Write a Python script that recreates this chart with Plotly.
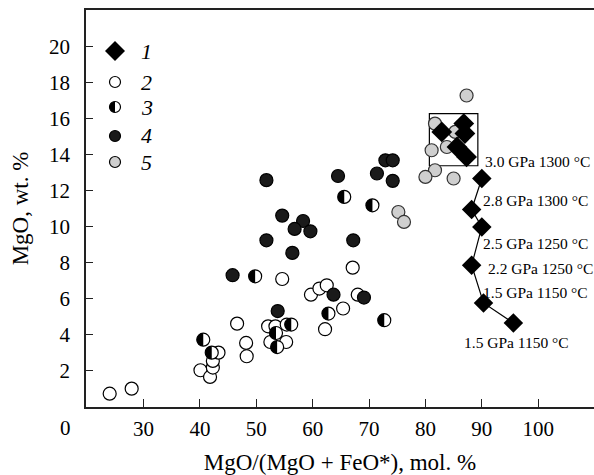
import math
import plotly.graph_objects as go

# ---- data ----
# 1: experimental melts, diamonds inside the box
s1_box_x = [82.9, 86.8, 87.0, 85.6, 87.3]
s1_box_y = [15.28, 15.74, 15.19, 14.44, 13.89]
# 1: experimental melts joined by a line
s1_path_x = [90.0, 88.2, 90.0, 88.2, 90.3, 95.6]
s1_path_y = [12.69, 10.97, 10.0, 7.87, 5.78, 4.67]
s1_labels = ["3.0 GPa 1300 °C", "2.8 GPa 1300 °C", "2.5 GPa 1250 °C",
             "2.2 GPa 1250 °C", "1.5 GPa 1150 °C", "1.5 GPa 1150 °C"]
s1_label_x = [90.2, 89.9, 89.9, 90.8, 89.9, 86.5]
s1_label_y = [13.65, 11.48, 9.09, 7.71, 6.37, 3.59]

# 2: open circles
s2_x = [24.0, 27.9, 40.1, 41.8, 42.3, 42.3, 43.3, 46.6, 48.2, 48.3, 52.1, 53.4,
        55.4, 52.5, 55.3, 54.6, 67.1, 59.7, 61.2, 62.5, 68.0, 65.4, 62.2]
s2_y = [0.74, 1.02, 2.04, 1.67, 2.19, 2.56, 3.02, 4.63, 3.56, 2.82, 4.48, 4.48,
        4.58, 3.61, 3.61, 7.11, 7.74, 6.24, 6.58, 6.76, 6.24, 5.47, 4.32]
# 3: half-filled circles
s3_x = [40.6, 42.1, 49.8, 65.6, 70.6, 62.8, 72.7, 56.2, 53.5, 53.7]
s3_y = [3.74, 3.02, 7.26, 11.67, 11.2, 5.19, 4.82, 4.58, 4.11, 3.33]
# 4: filled black circles
s4_x = [51.8, 64.5, 72.9, 74.2, 71.4, 74.2, 54.6, 58.3, 56.8, 59.6, 51.8, 67.2,
        56.4, 45.8, 63.7, 69.1, 53.8]
s4_y = [12.6, 12.83, 13.7, 13.7, 12.97, 12.56, 10.63, 10.33, 9.89, 9.76, 9.26,
        9.26, 8.56, 7.32, 6.24, 6.08, 5.33]
# 5: grey circles
s5_x = [75.2, 76.2, 87.3, 81.7, 85.3, 83.8, 81.1, 81.7, 80.0, 85.0]
s5_y = [10.83, 10.28, 17.3, 15.74, 15.28, 14.44, 14.26, 13.15, 12.78, 12.69]

# box around experimental cluster
box_x = [80.7, 89.3]
box_y = [13.4, 16.3]

x_ticks = [30, 40, 50, 60, 70, 80, 90, 100]
y_ticks = [2, 4, 6, 8, 10, 12, 14, 16, 18, 20]
legend_labels = ["1", "2", "3", "4", "5"]

SERIF = "Liberation Serif"
CSIZE = 13
LW = 1.2

W, Hfig = 594, 475
ML, MR, MT, MB = 86, 0, 10, 68
XR = [19.8, 109.9]
YR = [0, 22.05]
PW = W - ML - MR
PH = Hfig - MT - MB
xu = PW / (XR[1] - XR[0])   # px per x unit
yu = PH / (YR[1] - YR[0])   # px per y unit

fig = go.Figure()

fig.add_trace(go.Scatter(x=s2_x, y=s2_y, mode="markers", showlegend=False,
                         marker=dict(symbol="circle", size=CSIZE, color="white",
                                     line=dict(color="black", width=LW))))
fig.add_trace(go.Scatter(x=s3_x, y=s3_y, mode="markers", showlegend=False,
                         marker=dict(symbol="circle", size=CSIZE, color="white",
                                     line=dict(color="black", width=LW))))
fig.add_trace(go.Scatter(x=s4_x, y=s4_y, mode="markers", showlegend=False,
                         marker=dict(symbol="circle", size=CSIZE, color="#1a1a1a",
                                     line=dict(color="black", width=LW))))
fig.add_trace(go.Scatter(x=s5_x, y=s5_y, mode="markers", showlegend=False,
                         marker=dict(symbol="circle", size=CSIZE, color="#cfcfcf",
                                     line=dict(color="#333333", width=LW))))
fig.add_trace(go.Scatter(x=s1_path_x, y=s1_path_y, mode="lines+markers", showlegend=False,
                         line=dict(color="black", width=1.2),
                         marker=dict(symbol="diamond", size=15, color="black")))
fig.add_trace(go.Scatter(x=s1_box_x, y=s1_box_y, mode="markers", showlegend=False,
                         marker=dict(symbol="diamond", size=16, color="black")))

shapes = [dict(type="rect", xref="x", yref="y", x0=box_x[0], x1=box_x[1],
               y0=box_y[0], y1=box_y[1], line=dict(color="black", width=1.2),
               layer="below")]


def half_path(cx, cy, rx, ry, n=16):
    pts = []
    for i in range(n + 1):
        a = math.pi / 2 + math.pi * i / n
        pts.append((cx + rx * math.cos(a), cy + ry * math.sin(a)))
    return "M " + " L ".join(f"{p[0]:.4f},{p[1]:.4f}" for p in pts) + " Z"


# left half black fill for series 3 (through the data axes)
r_px = CSIZE / 2.0
for cx, cy in zip(s3_x, s3_y):
    shapes.append(dict(type="path", xref="x", yref="y",
                       path=half_path(cx, cy, r_px / xu, r_px / yu),
                       fillcolor="black", line=dict(width=0), layer="above"))

annotations = []
for t, ax_, ay_ in zip(s1_labels, s1_label_x, s1_label_y):
    annotations.append(dict(x=ax_, y=ay_, xref="x", yref="y", text=t, showarrow=False,
                            xanchor="left", yanchor="middle",
                            font=dict(family=SERIF, size=15.5, color="black")))


# legend (manual), paper coordinates
def px(x):
    return (x - ML) / PW


def py(y):
    return (Hfig - MB - y) / PH


leg_cx = 115
leg_y = [51, 82, 107, 136, 162]
lr = 5.5
# 1 diamond
dx, dy = 10 / PW, 10 / PH
cx0, cy0 = px(leg_cx), py(leg_y[0])
shapes.append(dict(type="path", xref="paper", yref="paper",
                   path=f"M {cx0-dx},{cy0} L {cx0},{cy0+dy} L {cx0+dx},{cy0} L {cx0},{cy0-dy} Z",
                   fillcolor="black", line=dict(width=0)))
# circles 2-5
fills = ["white", "white", "#1a1a1a", "#cfcfcf"]
for fcol, yy in zip(fills, leg_y[1:]):
    cx, cy = px(leg_cx), py(yy)
    shapes.append(dict(type="circle", xref="paper", yref="paper",
                       x0=cx - lr / PW, x1=cx + lr / PW, y0=cy - lr / PH, y1=cy + lr / PH,
                       fillcolor=fcol, line=dict(color="black", width=1.2)))
cx, cy = px(leg_cx), py(leg_y[2])
shapes.append(dict(type="path", xref="paper", yref="paper",
                   path=half_path(cx, cy, lr / PW, lr / PH),
                   fillcolor="black", line=dict(width=0)))

for yy, lab in zip(leg_y, legend_labels):
    annotations.append(dict(x=px(139), y=py(yy), xref="paper", yref="paper",
                            text="<i>" + lab + "</i>", showarrow=False,
                            xanchor="left", yanchor="middle",
                            font=dict(family=SERIF, size=22, color="black")))
# origin label
annotations.append(dict(x=px(65), y=py(428), xref="paper", yref="paper", text="0",
                        showarrow=False, xanchor="center", yanchor="middle",
                        font=dict(family=SERIF, size=21, color="black")))

fig.update_layout(
    width=W, height=Hfig,
    margin=dict(l=ML, r=MR, t=MT, b=MB),
    paper_bgcolor="white", plot_bgcolor="white",
    font=dict(family=SERIF, size=21, color="black"),
    annotations=annotations,
    shapes=shapes,
    xaxis=dict(range=XR, tickvals=x_ticks, ticktext=[str(v) for v in x_ticks],
               showline=True, linecolor="#222222", linewidth=1.5, mirror=True,
               ticks="inside", ticklen=8, tickcolor="#222222", tickwidth=1.2,
               showgrid=False, zeroline=False, ticklabelstandoff=2,
               tickfont=dict(family=SERIF, size=21, color="black"),
               title=dict(text="MgO/(MgO + FeO*), mol. %", standoff=15,
                          font=dict(family=SERIF, size=23, color="black"))),
    yaxis=dict(range=YR, tickvals=y_ticks, ticktext=[str(v) for v in y_ticks],
               showline=True, linecolor="#222222", linewidth=1.5,
               ticks="inside", ticklen=7, tickcolor="#222222", tickwidth=1.2,
               showgrid=False, zeroline=False, ticklabelstandoff=10,
               tickfont=dict(family=SERIF, size=21, color="black"),
               title=dict(text="MgO, wt. %", standoff=14,
                          font=dict(family=SERIF, size=23, color="black"))),
)

fig.write_html("out.html")
